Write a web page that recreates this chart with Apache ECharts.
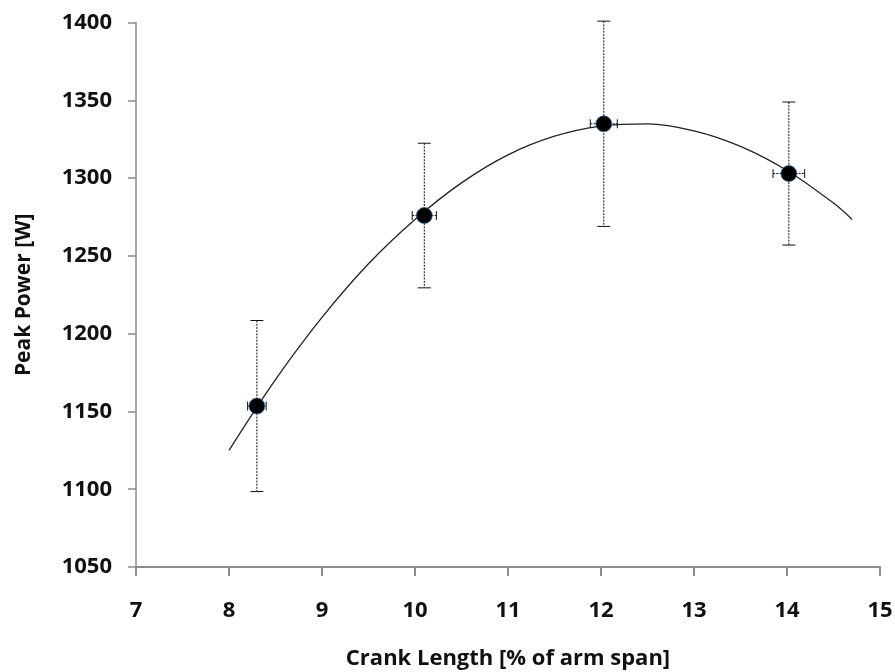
<!DOCTYPE html>
<html>
<head>
<meta charset="utf-8">
<script src="https://cdn.jsdelivr.net/npm/echarts@6/dist/echarts.min.js"></script>
<style>
html,body{margin:0;padding:0;background:#fff;}
#chart{width:895px;height:672px;}
</style>
</head>
<body>
<div id="chart"></div>
<script>
// Measured points
var crankLength = [8.3, 10.1, 12.03, 14.02];
var peakPower = [1153.5, 1276, 1335, 1303];
var powerSD = [55, 46.5, 66, 46];
var crankSD = [0.1, 0.13, 0.145, 0.17];

// Trendline
var trendX = [8.0, 8.5, 9.0, 9.5, 10.0, 10.5, 11.0, 11.5, 12.0, 12.5, 13.0, 13.5, 14.0, 14.5, 14.7];
var trendY = [1125, 1170.5, 1210.5, 1245, 1273.5, 1297, 1315, 1327, 1333.5, 1335, 1330.5, 1320.5, 1305, 1284, 1273.5];

var xTicks = [7, 8, 9, 10, 11, 12, 13, 14, 15];
var yTicks = [1050, 1100, 1150, 1200, 1250, 1300, 1350, 1400];

var FONT = 'Open Sans';
var chart = echarts.init(document.getElementById('chart'));

var trendData = trendX.map(function (x, i) { return [x, trendY[i]]; });
var pointData = crankLength.map(function (x, i) { return [x, peakPower[i]]; });
var errData = crankLength.map(function (x, i) {
  return [x, peakPower[i], peakPower[i] - powerSD[i], peakPower[i] + powerSD[i], x - crankSD[i], x + crankSD[i]];
});

chart.setOption({
  animation: false,
  backgroundColor: '#ffffff',
  grid: { left: 136, right: 15, top: 22.7, bottom: 105, containLabel: false, outerBoundsMode: 'none' },
  xAxis: {
    type: 'value',
    min: xTicks[0], max: xTicks[xTicks.length - 1], interval: 1,
    name: 'Crank Length [% of arm span]',
    nameLocation: 'middle', nameGap: 81,
    nameTextStyle: { fontFamily: FONT, fontWeight: 'bold', fontSize: 22, color: '#111' },
    axisLine: { show: true, lineStyle: { color: '#8c8c8c', width: 2 } },
    axisTick: { show: true, length: 9, lineStyle: { color: '#8c8c8c', width: 2 } },
    axisLabel: { margin: 33, fontFamily: FONT, fontWeight: 'bold', fontSize: 22, color: '#111',
      formatter: function (v) { return String(v); } },
    splitLine: { show: false }
  },
  yAxis: {
    type: 'value',
    min: yTicks[0], max: yTicks[yTicks.length - 1], interval: 50,
    name: 'Peak Power [W]',
    nameLocation: 'middle', nameGap: 101,
    nameTextStyle: { fontFamily: FONT, fontWeight: 'bold', fontSize: 21, color: '#111' },
    axisLine: { show: true, lineStyle: { color: '#8c8c8c', width: 1.5 } },
    axisTick: { show: true, length: 8, lineStyle: { color: '#8c8c8c', width: 1.5 } },
    axisLabel: { margin: 24, fontFamily: FONT, fontWeight: 'bold', fontSize: 22, color: '#111',
      formatter: function (v) { return String(v); } },
    splitLine: { show: false }
  },
  series: [
    {
      type: 'line',
      data: trendData,
      smooth: 0.35,
      showSymbol: false,
      lineStyle: { color: '#222', width: 1.3 },
      z: 1
    },
    {
      type: 'custom',
      data: errData,
      z: 2,
      renderItem: function (params, api) {
        var c = api.coord([api.value(0), api.value(1)]);
        var lo = api.coord([api.value(0), api.value(2)]);
        var hi = api.coord([api.value(0), api.value(3)]);
        var l = api.coord([api.value(4), api.value(1)]);
        var r = api.coord([api.value(5), api.value(1)]);
        var cap = 6.5, hcap = 4.5;
        var dashed = { stroke: '#111', lineWidth: 1, lineDash: [2, 1.2] };
        var solid = { stroke: '#111', lineWidth: 1 };
        return {
          type: 'group',
          children: [
            { type: 'line', shape: { x1: c[0], y1: hi[1], x2: c[0], y2: lo[1] }, style: dashed },
            { type: 'line', shape: { x1: c[0] - cap, y1: hi[1], x2: c[0] + cap, y2: hi[1] }, style: solid },
            { type: 'line', shape: { x1: c[0] - cap, y1: lo[1], x2: c[0] + cap, y2: lo[1] }, style: solid },
            { type: 'line', shape: { x1: l[0], y1: c[1], x2: r[0], y2: c[1] }, style: dashed },
            { type: 'line', shape: { x1: l[0], y1: c[1] - hcap, x2: l[0], y2: c[1] + hcap }, style: solid },
            { type: 'line', shape: { x1: r[0], y1: c[1] - hcap, x2: r[0], y2: c[1] + hcap }, style: solid }
          ]
        };
      }
    },
    {
      type: 'scatter',
      data: pointData,
      symbol: 'circle',
      symbolSize: 16,
      itemStyle: { color: '#000', borderColor: '#3d6fa8', borderWidth: 0.8, opacity: 1 },
      z: 3
    }
  ]
});
</script>
</body>
</html>
